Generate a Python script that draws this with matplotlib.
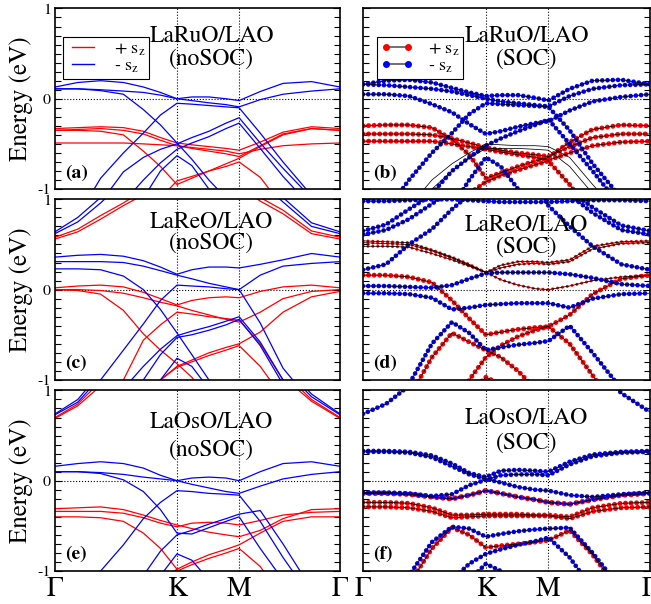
import numpy as np
import matplotlib
matplotlib.use('Agg')
import matplotlib.pyplot as plt
from matplotlib.lines import Line2D

# k-path sampling (fraction of path length) and high-symmetry points
K_GRID = [0, 0.08, 0.16, 0.24, 0.31, 0.37, 0.428, 0.48, 0.54, 0.60, 0.646, 0.72, 0.80, 0.90, 1.0]
KPATH_POS = [0, 0.428, 0.646, 1.0]
KPATH_LABELS = ['Γ', 'K', 'M', 'Γ']

# ---- (a) LaRuO/LAO noSOC
ruo_nosoc_blue = [
    [0.13, 0.18, 0.20, 0.18, 0.13, 0.07, 0.0, 0.02, 0.02, 0.0, -0.02, 0.08, 0.17, 0.19, 0.13],
    [0.11, 0.11, 0.10, 0.085, 0.07, 0.04, 0.0, -0.02, -0.045, -0.065, -0.09, -0.01, 0.05, 0.085, 0.11],
    [0.11, 0.11, 0.09, 0.05, -0.12, -0.29, -0.49, -0.67, -0.90, -1.1, -1.3, -1.5, -1.7, -1.9, -2.0],
    [-1.7, -1.3, -0.88, -0.60, -0.38, -0.18, -0.05, -0.06, -0.075, -0.09, -0.10, -0.38, -0.70, -1.07, -1.5],
    [-1.9, -1.5, -1.15, -0.81, -0.65, -0.56, -0.50, -0.43, -0.36, -0.27, -0.21, -0.49, -0.77, -1.1, -1.6],
    [-2.0, -1.8, -1.45, -1.15, -0.90, -0.71, -0.56, -0.49, -0.42, -0.33, -0.27, -0.55, -0.86, -1.2, -1.8],
    [-2.0, -2.0, -2.0, -1.6, -1.1, -0.80, -0.63, -0.74, -1.0, -1.4, -1.7, -2.0, -2.0, -2.0, -2.0],
]
ruo_nosoc_red = [
    [-0.33, -0.32, -0.31, -0.32, -0.36, -0.43, -0.49, -0.51, -0.53, -0.55, -0.57, -0.48, -0.37, -0.31, -0.33],
    [-0.35, -0.35, -0.36, -0.40, -0.58, -0.75, -0.95, -0.88, -0.80, -0.72, -0.66, -0.53, -0.40, -0.33, -0.35],
    [-0.49, -0.49, -0.49, -0.49, -0.50, -0.51, -0.52, -0.54, -0.56, -0.58, -0.61, -0.56, -0.52, -0.50, -0.49],
    [-2.0, -2.0, -1.8, -1.5, -1.3, -1.1, -0.91, -0.86, -0.80, -0.75, -0.70, -0.87, -1.2, -1.7, -2.0],
    [-0.35, -0.34, -0.33, -0.35, -0.39, -0.46, -0.52, -0.55, -0.58, -0.61, -0.64, -0.52, -0.39, -0.33, -0.35],
]

# ---- (b) LaRuO/LAO SOC
ruo_soc_blue = [
    [0.16, 0.20, 0.21, 0.18, 0.12, 0.07, 0.03, 0.04, 0.04, 0.01, -0.02, 0.11, 0.20, 0.21, 0.16],
    [0.16, 0.15, 0.13, 0.11, 0.08, 0.04, 0.0, -0.03, -0.05, -0.07, -0.085, 0.03, 0.11, 0.15, 0.16],
    [0.05, 0.05, 0.03, -0.06, -0.15, -0.28, -0.39, -0.36, -0.31, -0.27, -0.25, -0.13, -0.03, 0.02, 0.05],
    [-1.6, -1.25, -0.9, -0.6, -0.38, -0.17, -0.05, -0.06, -0.07, -0.08, -0.09, -0.35, -0.72, -1.1, -1.5],
    [-2.0, -1.7, -1.35, -1.05, -0.80, -0.65, -0.52, -0.44, -0.36, -0.29, -0.23, -0.50, -0.80, -1.2, -1.6],
    [-2.0, -2.0, -2.0, -1.7, -1.2, -0.9, -0.65, -0.75, -1.0, -1.4, -1.8, -2.0, -2.0, -2.0, -2.0],
]
ruo_soc_red = [
    [-0.30, -0.29, -0.29, -0.32, -0.45, -0.62, -0.88, -0.82, -0.75, -0.69, -0.65, -0.48, -0.34, -0.29, -0.30],
    [-0.39, -0.39, -0.39, -0.40, -0.44, -0.49, -0.54, -0.57, -0.60, -0.62, -0.64, -0.53, -0.43, -0.39, -0.39],
    [-0.47, -0.47, -0.47, -0.47, -0.50, -0.53, -0.56, -0.59, -0.62, -0.65, -0.68, -0.60, -0.52, -0.48, -0.47],
    [-2.0, -2.0, -1.7, -1.4, -1.2, -1.05, -0.92, -0.85, -0.79, -0.73, -0.69, -0.95, -1.3, -1.7, -2.0],
]
ruo_soc_weak = []
ruo_soc_mixed = []
ruo_soc_black = [
    [-2.0, -1.6, -1.2, -0.9, -0.72, -0.60, -0.50, -0.51, -0.52, -0.52, -0.53, -0.65, -0.95, -1.3, -1.7],
    [-2.0, -1.75, -1.35, -1.0, -0.80, -0.66, -0.55, -0.55, -0.55, -0.56, -0.57, -0.75, -1.05, -1.4, -1.8],
]

# ---- (c) LaReO/LAO noSOC
reo_nosoc_blue = [
    [0.64, 0.80, 1.02, 1.3, 1.5, 1.6, 1.7, 1.7, 1.7, 1.7, 1.6, 1.3, 1.02, 0.74, 0.64],
    [0.62, 0.75, 0.96, 1.2, 1.4, 1.5, 1.6, 1.6, 1.6, 1.6, 1.5, 1.2, 0.97, 0.70, 0.62],
    [0.36, 0.38, 0.39, 0.37, 0.32, 0.25, 0.17, 0.22, 0.25, 0.25, 0.24, 0.28, 0.33, 0.40, 0.36],
    [0.31, 0.31, 0.31, 0.30, 0.26, 0.21, 0.16, 0.12, 0.07, 0.03, 0.0, 0.16, 0.26, 0.29, 0.31],
    [0.23, 0.23, 0.22, 0.15, 0.0, -0.22, -0.48, -0.72, -1.0, -1.3, -1.5, -1.7, -1.9, -2.0, -2.0],
    [-1.7, -1.35, -1.0, -0.67, -0.38, -0.12, 0.05, 0.04, 0.03, 0.01, 0.0, -0.37, -0.87, -1.25, -1.7],
    [-2.0, -1.8, -1.4, -1.1, -0.85, -0.66, -0.51, -0.46, -0.41, -0.35, -0.30, -0.58, -1.0, -1.4, -2.0],
    [-2.0, -2.0, -1.7, -1.3, -1.0, -0.72, -0.53, -0.50, -0.45, -0.39, -0.33, -0.62, -1.05, -1.5, -2.0],
    [-2.0, -2.0, -2.0, -1.7, -1.3, -1.0, -0.76, -0.85, -1.1, -1.4, -1.7, -2.0, -2.0, -2.0, -2.0],
]
reo_nosoc_red = [
    [0.58, 0.67, 0.82, 0.96, 1.1, 1.2, 1.3, 1.3, 1.3, 1.3, 1.2, 1.02, 0.88, 0.65, 0.58],
    [0.56, 0.64, 0.78, 0.93, 1.05, 1.15, 1.2, 1.2, 1.2, 1.2, 1.15, 0.98, 0.84, 0.62, 0.56],
    [0.02, 0.04, 0.05, 0.03, -0.03, -0.10, -0.17, -0.12, -0.09, -0.08, -0.09, -0.02, 0.03, 0.05, 0.02],
    [0.0, 0.0, -0.01, -0.04, -0.09, -0.14, -0.18, -0.23, -0.28, -0.33, -0.36, -0.25, -0.10, -0.02, 0.0],
    [0.0, -0.01, -0.05, -0.23, -0.49, -0.67, -0.82, -0.97, -1.2, -1.5, -1.7, -2.0, -2.0, -2.0, -2.0],
    [-2.0, -1.8, -1.4, -1.0, -0.56, -0.39, -0.25, -0.27, -0.30, -0.32, -0.34, -0.60, -1.0, -1.5, -2.0],
    [-2.0, -2.0, -1.8, -1.5, -1.2, -1.0, -0.85, -0.78, -0.70, -0.64, -0.60, -0.47, -0.25, -0.08, -0.02],
    [-2.0, -2.0, -2.0, -1.7, -1.3, -1.0, -0.86, -0.80, -0.73, -0.67, -0.62, -0.85, -1.2, -1.6, -2.0],
]

# ---- (d) LaReO/LAO SOC
reo_soc_blue = [
    [0.98, 0.98, 0.99, 1.0, 1.0, 0.99, 0.98, 0.97, 0.97, 0.97, 0.97, 0.98, 0.99, 0.99, 0.98],
    [0.65, 0.72, 0.89, 1.05, 1.2, 1.3, 1.4, 1.4, 1.4, 1.4, 1.3, 1.1, 0.91, 0.71, 0.65],
    [0.61, 0.66, 0.78, 0.95, 1.1, 1.2, 1.3, 1.3, 1.3, 1.3, 1.2, 1.05, 0.85, 0.66, 0.61],
    [0.22, 0.28, 0.50, 0.67, 0.89, 1.05, 1.2, 1.2, 1.2, 1.2, 0.93, 0.70, 0.48, 0.28, 0.22],
    [0.04, 0.04, 0.03, 0.02, 0.05, 0.12, 0.18, 0.19, 0.19, 0.19, 0.19, 0.17, 0.13, 0.06, 0.04],
    [-0.04, -0.04, -0.05, -0.09, -0.22, -0.20, -0.17, -0.16, -0.15, -0.15, -0.15, -0.20, -0.10, -0.05, -0.04],
    [-2.0, -1.6, -1.05, -0.60, -0.36, -0.48, -0.67, -0.64, -0.61, -0.59, -0.57, -0.40, -0.70, -1.1, -1.6],
]
reo_soc_red = [
    [0.16, 0.16, 0.14, 0.08, -0.12, -0.32, -0.50, -0.47, -0.44, -0.42, -0.41, -0.28, -0.05, 0.12, 0.16],
    [-2.0, -1.7, -1.2, -0.75, -0.48, -0.58, -0.67, -0.75, -0.90, -1.1, -1.3, -1.6, -2.0, -2.0, -2.0],
    [-2.0, -2.0, -2.0, -2.0, -1.5, -1.15, -0.97, -1.05, -1.3, -1.6, -2.0, -2.0, -2.0, -2.0, -2.0],
    [-2.0, -2.0, -2.0, -1.8, -1.4, -1.0, -0.75, -0.62, -0.52, -0.45, -0.41, -0.60, -0.95, -1.4, -2.0],
]
reo_soc_weak = [
    [0.54, 0.53, 0.52, 0.44, 0.36, 0.28, 0.19, 0.27, 0.31, 0.31, 0.30, 0.33, 0.48, 0.53, 0.54],
    [0.48, 0.48, 0.47, 0.40, 0.33, 0.26, 0.19, 0.11, 0.05, 0.01, 0.0, 0.04, 0.10, 0.14, 0.16],
    [0.52, 0.51, 0.50, 0.43, 0.35, 0.27, 0.19, 0.24, 0.28, 0.29, 0.28, 0.31, 0.45, 0.51, 0.52],
]
reo_soc_mixed = []
reo_soc_black = []

# ---- (e) LaOsO/LAO noSOC
oso_nosoc_blue = [
    [0.74, 0.90, 1.2, 1.5, 1.7, 1.8, 1.9, 1.9, 1.9, 1.9, 1.8, 1.6, 1.3, 0.96, 0.74],
    [0.73, 0.87, 1.15, 1.4, 1.6, 1.7, 1.8, 1.8, 1.8, 1.8, 1.7, 1.5, 1.25, 0.93, 0.73],
    [0.16, 0.19, 0.21, 0.19, 0.14, 0.06, 0.0, 0.03, 0.04, 0.03, 0.0, 0.10, 0.19, 0.21, 0.16],
    [0.10, 0.10, 0.09, 0.07, 0.04, 0.02, 0.0, -0.04, -0.08, -0.12, -0.14, -0.06, 0.02, 0.07, 0.10],
    [0.10, 0.10, 0.08, 0.01, -0.12, -0.32, -0.58, -0.59, -0.52, -0.45, -0.40, -0.75, -1.1, -1.5, -2.0],
    [-1.7, -1.35, -1.0, -0.71, -0.42, -0.24, -0.11, -0.12, -0.14, -0.15, -0.16, -0.45, -0.85, -1.3, -1.7],
    [-2.0, -2.0, -1.7, -1.35, -1.05, -0.78, -0.60, -0.55, -0.48, -0.42, -0.37, -0.33, -0.70, -1.2, -1.7],
    [-2.0, -2.0, -2.0, -1.8, -1.4, -1.05, -0.81, -0.88, -1.1, -1.4, -1.7, -2.0, -2.0, -2.0, -2.0],
]
oso_nosoc_red = [
    [0.70, 0.85, 1.1, 1.4, 1.6, 1.7, 1.8, 1.8, 1.8, 1.8, 1.7, 1.5, 1.2, 0.90, 0.70],
    [0.69, 0.83, 1.05, 1.3, 1.5, 1.6, 1.7, 1.7, 1.7, 1.7, 1.6, 1.4, 1.15, 0.88, 0.69],
    [-0.31, -0.30, -0.29, -0.32, -0.38, -0.44, -0.49, -0.53, -0.57, -0.60, -0.62, -0.55, -0.42, -0.32, -0.31],
    [-0.34, -0.34, -0.34, -0.36, -0.41, -0.47, -0.51, -0.47, -0.46, -0.47, -0.49, -0.44, -0.38, -0.35, -0.34],
    [-0.40, -0.40, -0.41, -0.45, -0.58, -0.75, -0.98, -1.2, -1.5, -1.8, -2.0, -2.0, -2.0, -2.0, -2.0],
    [-2.0, -2.0, -1.8, -1.5, -1.25, -1.1, -0.98, -0.90, -0.82, -0.76, -0.71, -0.58, -0.45, -0.40, -0.40],
    [-2.0, -2.0, -2.0, -1.7, -1.4, -1.2, -1.0, -0.93, -0.86, -0.80, -0.75, -0.95, -1.3, -1.7, -2.0],
]

# ---- (f) LaOsO/LAO SOC
oso_soc_blue = [
    [0.74, 0.85, 1.05, 1.3, 1.5, 1.6, 1.7, 1.7, 1.7, 1.7, 1.6, 1.5, 1.3, 0.97, 0.76],
    [0.33, 0.33, 0.32, 0.28, 0.19, 0.085, 0.04, 0.11, 0.12, 0.11, 0.10, 0.21, 0.29, 0.32, 0.33],
    [0.32, 0.32, 0.31, 0.26, 0.16, 0.07, 0.02, -0.02, -0.07, -0.10, -0.11, -0.16, -0.18, -0.15, -0.13],
    [-0.13, -0.13, -0.14, -0.17, -0.15, -0.05, 0.01, 0.06, 0.07, 0.07, 0.06, 0.18, 0.27, 0.31, 0.32],
    [-2.0, -1.6, -1.05, -0.68, -0.51, -0.53, -0.62, -0.59, -0.56, -0.54, -0.53, -0.52, -0.80, -1.2, -1.7],
    [-2.0, -2.0, -1.8, -1.4, -1.1, -0.92, -0.81, -0.76, -0.71, -0.67, -0.63, -0.85, -1.2, -1.6, -2.0],
    [-2.0, -2.0, -2.0, -2.0, -1.4, -1.1, -0.92, -1.0, -1.2, -1.5, -2.0, -2.0, -2.0, -2.0, -2.0],
]
oso_soc_red = [
    [-0.24, -0.24, -0.25, -0.30, -0.38, -0.38, -0.37, -0.37, -0.37, -0.38, -0.38, -0.40, -0.30, -0.25, -0.24],
    [-0.29, -0.29, -0.30, -0.34, -0.41, -0.40, -0.39, -0.39, -0.39, -0.39, -0.39, -0.42, -0.34, -0.30, -0.29],
    [-2.0, -1.7, -1.15, -0.75, -0.52, -0.60, -0.74, -0.72, -0.70, -0.68, -0.66, -0.55, -0.82, -1.25, -1.8],
]
oso_soc_weak = []
oso_soc_mixed = [
    [-0.14, -0.14, -0.15, -0.18, -0.20, -0.16, -0.11, -0.14, -0.18, -0.21, -0.24, -0.26, -0.21, -0.16, -0.14],
]
oso_soc_black = []

TITLES = [('LaRuO/LAO', '(noSOC)'), ('LaRuO/LAO', '(SOC)'),
          ('LaReO/LAO', '(noSOC)'), ('LaReO/LAO', '(SOC)'),
          ('LaOsO/LAO', '(noSOC)'), ('LaOsO/LAO', '(SOC)')]
PANEL_LABELS = ['(a)', '(b)', '(c)', '(d)', '(e)', '(f)']

plt.rcParams['font.family'] = ['STIXGeneral', 'DejaVu Serif']
plt.rcParams['mathtext.fontset'] = 'stix'
plt.rcParams['axes.unicode_minus'] = False

DOTS = (0, (0.01, 1.1))


def draw_nosoc(ax, blue, red):
    for e in red:
        ax.plot(K_GRID, e, color='red', lw=0.9)
    for e in blue:
        ax.plot(K_GRID, e, color='blue', lw=0.9)


def draw_soc(ax, blue, red, weak, mixed, black):
    for e in weak:
        ax.plot(K_GRID, e, color='red', lw=2.2, ls=(0, (0.01, 1.6)), dash_capstyle='round')
    for e in red:
        ax.plot(K_GRID, e, color='red', lw=3.6, ls=DOTS, dash_capstyle='round')
    for e in mixed:
        ax.plot(K_GRID, e, color='red', lw=4.0, ls=DOTS, dash_capstyle='round')
        ax.plot(K_GRID, e, color='blue', lw=2.4, ls=DOTS, dash_capstyle='round')
    for e in blue:
        ax.plot(K_GRID, e, color='blue', lw=3.4, ls=DOTS, dash_capstyle='round')
    for e in weak + red + mixed + blue + black:
        ax.plot(K_GRID, e, color='black', lw=0.55)


def style(ax, left_col, bottom_row):
    ax.set_xlim(0, 1)
    ax.set_ylim(-1, 1)
    ax.axhline(0, color='k', ls=':', lw=0.8, zorder=0.5)
    for kp in KPATH_POS[1:-1]:
        ax.axvline(kp, color='k', ls=':', lw=0.8, zorder=0.5)
    ax.set_yticks([-1, 0, 1])
    ax.set_yticks(np.arange(-1, 1.001, 0.1), minor=True)
    ax.tick_params(axis='y', which='both', direction='in', left=True, right=True, width=0.8)
    ax.tick_params(axis='y', which='major', length=5, labelsize=11.5, pad=3)
    ax.tick_params(axis='y', which='minor', length=4)
    if left_col:
        ax.set_yticklabels(['-1', '0', '1'])
    else:
        ax.set_yticklabels([])
    ax.set_xticks(KPATH_POS)
    ax.tick_params(axis='x', length=0, labelsize=20, pad=4)
    if bottom_row:
        ax.set_xticklabels(KPATH_LABELS)
    else:
        ax.set_xticklabels([])
    for s in ax.spines.values():
        s.set_linewidth(1.2)


fig = plt.figure(figsize=(6.51, 6.04), dpi=100)
col_left = [0.0845, 0.5576]
col_w = [0.4378, 0.4409]
row_bottom = [0.687, 0.371, 0.0546]
row_h = 0.299

panels = [
    ('nosoc', ruo_nosoc_blue, ruo_nosoc_red, None, None, None),
    ('soc', ruo_soc_blue, ruo_soc_red, ruo_soc_weak, ruo_soc_mixed, ruo_soc_black),
    ('nosoc', reo_nosoc_blue, reo_nosoc_red, None, None, None),
    ('soc', reo_soc_blue, reo_soc_red, reo_soc_weak, reo_soc_mixed, reo_soc_black),
    ('nosoc', oso_nosoc_blue, oso_nosoc_red, None, None, None),
    ('soc', oso_soc_blue, oso_soc_red, oso_soc_weak, oso_soc_mixed, oso_soc_black),
]
title_y = [(0.845, 0.717), (0.845, 0.717), (0.873, 0.757), (0.856, 0.735), (0.823, 0.67), (0.845, 0.707)]

for i, (kind, blue, red, weak, mixed, black) in enumerate(panels):
    r, c = divmod(i, 2)
    ax = fig.add_axes([col_left[c], row_bottom[r], col_w[c], row_h])
    if kind == 'nosoc':
        draw_nosoc(ax, blue, red)
    else:
        draw_soc(ax, blue, red, weak, mixed, black)
    style(ax, c == 0, r == 2)
    tx = 0.55 if c == 0 else 0.57
    ax.text(tx, title_y[i][0], TITLES[i][0], transform=ax.transAxes, ha='center', va='center', fontsize=17)
    ax.text(tx, title_y[i][1], TITLES[i][1], transform=ax.transAxes, ha='center', va='center', fontsize=17)
    ax.text(0.035, 0.09, PANEL_LABELS[i], transform=ax.transAxes, ha='left', va='center',
            fontsize=14, fontweight='bold')

    if i in (0, 1):
        if i == 0:
            handles = [Line2D([], [], color='red', lw=1), Line2D([], [], color='blue', lw=1)]
            anchor = (0.028, 0.84)
        else:
            handles = [Line2D([], [], color='0.35', lw=1.2, marker='o', ms=4, mfc='red', mec='red'),
                       Line2D([], [], color='0.35', lw=1.2, marker='o', ms=4, mfc='blue', mec='blue')]
            anchor = (0.049, 0.84)
        leg = ax.legend(handles, [r'+ s$_\mathrm{z}$', r'- s$_\mathrm{z}$'], loc='upper left',
                        bbox_to_anchor=anchor, borderaxespad=0, fontsize=13, numpoints=2,
                        handlelength=1.8, handletextpad=0.8, borderpad=0.2, labelspacing=0.0,
                        fancybox=False, framealpha=1, edgecolor='black')
        leg.get_frame().set_linewidth(0.8)

for yc in [0.836, 0.5207, 0.2045]:
    fig.text(0.032, yc, 'Energy (eV)', rotation=90, ha='center', va='center', fontsize=18)

fig.savefig('out.png', dpi=100)
